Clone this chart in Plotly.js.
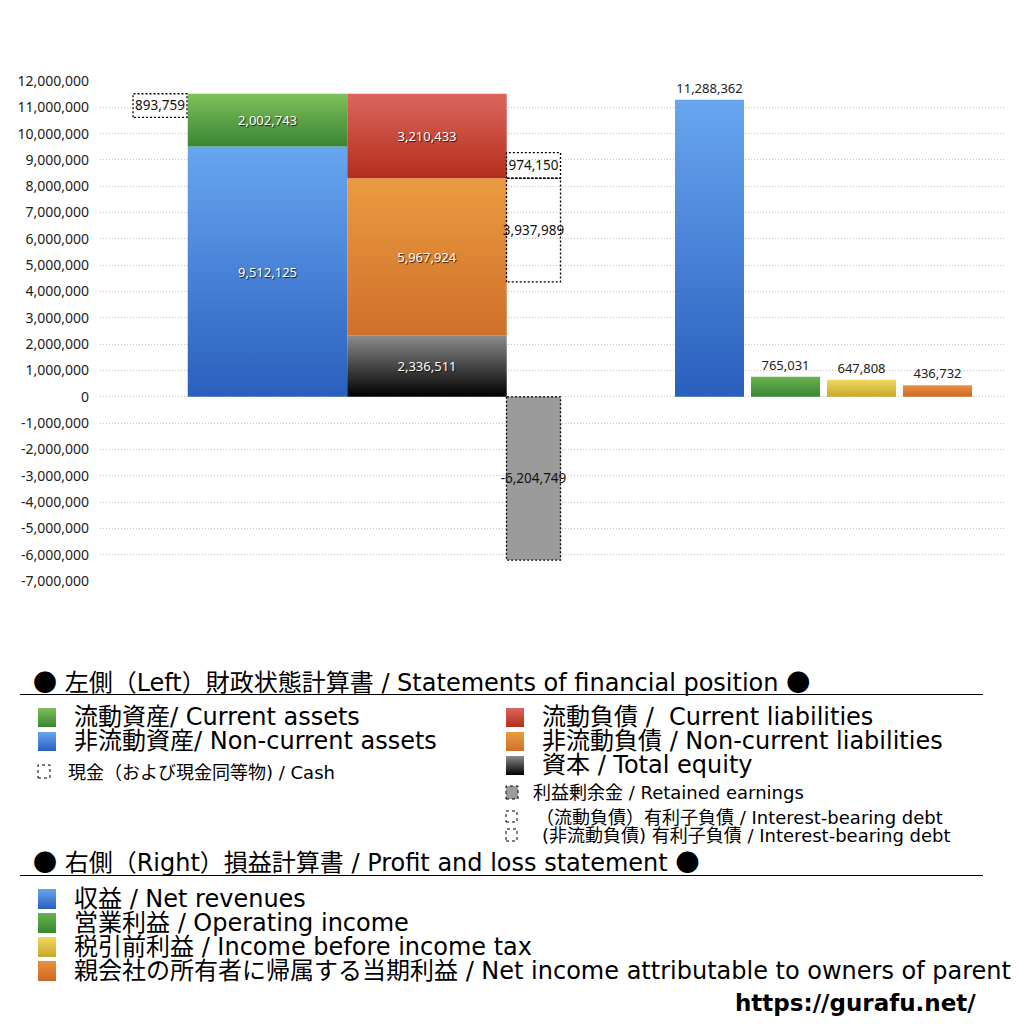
<!DOCTYPE html>
<html>
<head>
<meta charset="utf-8">
<script src="https://cdn.plot.ly/plotly-3.0.1.min.js"></script>
<style>
html,body{margin:0;padding:0;background:#fff;}
#chart{width:1024px;height:1024px;}
</style>
</head>
<body>
<div id="chart"></div>
<script>
// ---------- data ----------
const yTickLabels = ['12,000,000','11,000,000','10,000,000','9,000,000','8,000,000','7,000,000','6,000,000','5,000,000','4,000,000','3,000,000','2,000,000','1,000,000','0','-1,000,000','-2,000,000','-3,000,000','-4,000,000','-5,000,000','-6,000,000','-7,000,000'];
const nonCurrentAssets = 9512125;
const currentAssets = 2002743;
const cash = 893759;
const totalEquity = 2336511;
const nonCurrentLiabilities = 5967924;
const currentLiabilities = 3210433;
const ibdNonCurrent = 3937989;
const ibdCurrent = 974150;
const retainedEarnings = -6204749;
const plCategories = ['収益 / Net revenues','営業利益 / Operating income','税引前利益 / Income before income tax','親会社の所有者に帰属する当期利益 / Net income attributable to owners of parent'];
const plValues = [11288362, 765031, 647808, 436732];

// ---------- layout constants (pixel-based x axis) ----------
const L = 100, R = 1005, T = 81, B = 581;
const xCash = 160, wSmall = 54;
const xAssets = 267.5, wMain = 159.5;
const xLiab = 427, xDebt = 533.5;
const xPL = [709.5, 785.5, 861.5, 937.5], wPL = 69;

const fmt = v => v.toLocaleString('en-US');
const FONT = '"Noto Sans", "Noto Sans CJK JP", sans-serif';
const LFONT = '"DejaVu Sans", "Noto Sans CJK JP", sans-serif';
const DOT = '<span style="font-family:\'Noto Sans CJK JP\'">●</span>';
const tickVals = yTickLabels.map(s => Number(s.replace(/,/g, '')));

const gradDefs = {
  gBlue: ['#68a6f0', '#2a5fbe'],
  gGreen: ['#7fc159', '#398434'],
  gRed: ['#dc665d', '#b32e1b'],
  gOrange: ['#ea9b40', '#d0702b'],
  gBlack: ['#8c8c8c', '#000000'],
  gGreen2: ['#6cb34f', '#378733'],
  gYellow: ['#f0d95c', '#c8a62c'],
  gOrange2: ['#eb8f3d', '#cc6826']
};

const insideFont = {family: FONT, size: 13, color: '#ffffff', shadow: '1px 1px 1px rgba(0,0,0,0.75)'};
const boxFont = {family: FONT, size: 13.5, color: '#111111'};

function solidBar(x, w, y, base, grad, name) {
  return {type: 'bar', x: [x], y: [y], base: [base], width: [w], name: name,
    marker: {color: gradDefs[grad][1], line: {width: 0}},
    text: [fmt(y)], textposition: 'inside', insidetextanchor: 'middle', textangle: 0,
    textfont: insideFont, hoverinfo: 'skip', showlegend: false};
}
function boxBar(x, w, y, base, fill, name) {
  return {type: 'bar', x: [x], y: [y], base: [base], width: [w], name: name,
    marker: {color: fill, line: {color: '#000', width: 1.3}},
    text: [fmt(y)], textposition: 'inside', insidetextanchor: 'middle', textangle: 0,
    textfont: boxFont, hoverinfo: 'skip', showlegend: false};
}

const totalAssets = nonCurrentAssets + currentAssets;
const traces = [
  solidBar(xAssets, wMain, nonCurrentAssets, 0, 'gBlue', '非流動資産'),
  solidBar(xAssets, wMain, currentAssets, nonCurrentAssets, 'gGreen', '流動資産'),
  boxBar(xCash, wSmall, cash, totalAssets - cash, 'rgba(255,255,255,0)', '現金'),
  solidBar(xLiab, wMain, totalEquity, 0, 'gBlack', '資本'),
  solidBar(xLiab, wMain, nonCurrentLiabilities, totalEquity, 'gOrange', '非流動負債'),
  solidBar(xLiab, wMain, currentLiabilities, totalEquity + nonCurrentLiabilities, 'gRed', '流動負債'),
  boxBar(xDebt, wSmall, ibdNonCurrent, totalEquity + nonCurrentLiabilities - ibdNonCurrent, 'rgba(255,255,255,0)', '有利子負債(非流動)'),
  boxBar(xDebt, wSmall, ibdCurrent, totalEquity + nonCurrentLiabilities, 'rgba(255,255,255,0)', '有利子負債(流動)'),
  boxBar(xDebt, wSmall, retainedEarnings, 0, '#9b9b9b', '利益剰余金'),
  {type: 'bar', x: xPL, y: plValues, width: xPL.map(() => wPL), name: 'PL',
    marker: {color: ['#2a5fbe', '#378733', '#c8a62c', '#cc6826'], line: {width: 0}},
    text: plValues.map(fmt), textposition: 'outside', cliponaxis: false, textangle: 0,
    textfont: {family: FONT, size: 13, color: '#222'}, hoverinfo: 'skip', showlegend: false}
];
const traceGrad = [['gBlue'], ['gGreen'], null, ['gBlack'], ['gOrange'], ['gRed'], null, null, null,
  ['gBlue', 'gGreen2', 'gYellow', 'gOrange2']];
const dottedTraces = [2, 6, 7, 8];

// ---------- legend (pixel positions converted to paper) ----------
const px = x => (x - L) / (R - L);
const py = y => (B - y) / (B - T);
const shapes = [];
const shapeGrad = [];
const annotations = [];
function rect(x0, y0, x1, y1, grad, fill, dotted) {
  shapes.push({type: 'rect', xref: 'paper', yref: 'paper', x0: px(x0), x1: px(x1), y0: py(y1), y1: py(y0),
    fillcolor: grad ? gradDefs[grad][1] : fill,
    line: dotted ? {color: '#000', width: 1, dash: 'dot'} : {width: 0}, layer: 'above'});
  shapeGrad.push(grad || null);
}
function label(x, y, text, size, extra) {
  annotations.push(Object.assign({xref: 'paper', yref: 'paper', x: px(x), y: py(y), xanchor: 'left', yanchor: 'middle',
    text: text, showarrow: false, font: {family: LFONT, size: size, color: '#000'}, borderpad: 0}, extra || {}));
}
function hline(y) {
  shapes.push({type: 'line', xref: 'paper', yref: 'paper', x0: px(20), x1: px(983), y0: py(y), y1: py(y),
    line: {color: '#000', width: 1}});
  shapeGrad.push(null);
}

label(32, 680, DOT + ' 左側（Left）財政状態計算書 / Statements of financial position ' + DOT, 24);
hline(694.5);
rect(38, 708, 56, 727, 'gGreen'); label(73, 717, '流動資産/ Current assets', 24);
rect(38, 732, 56, 751, 'gBlue'); label(73, 741, '非流動資産/ Non-current assets', 24);
rect(38, 765, 50, 778, null, 'rgba(0,0,0,0)', true); label(67, 772, '現金（および現金同等物) / Cash', 18);
rect(506, 708, 524, 727, 'gRed'); label(541, 717, '流動負債 /  Current liabilities', 24);
rect(506, 732, 524, 751, 'gOrange'); label(541, 741, '非流動負債 / Non-current liabilities', 24);
rect(506, 756, 524, 775, 'gBlack'); label(541, 765, '資本 / Total equity', 24);
rect(506, 786, 518, 799, null, '#9b9b9b', true); label(532, 792, '利益剰余金 / Retained earnings', 18);
rect(506, 811, 517, 822, null, 'rgba(0,0,0,0)', true); label(535, 817, '（流動負債）有利子負債 / Interest-bearing debt', 18);
rect(506, 829, 517, 841, null, 'rgba(0,0,0,0)', true); label(541, 835, '(非流動負債) 有利子負債 / Interest-bearing debt', 18);

label(32, 860, DOT + ' 右側（Right）損益計算書 / Profit and loss statement ' + DOT, 24);
hline(875.5);
plCategories.forEach((c, i) => {
  const y0 = 889 + i * 24;
  rect(38, y0, 56, y0 + 20, traceGrad[9][i]);
  label(73, y0 + 10, c, 24);
});
label(734, 1003, '<b>https://gurafu.net/</b>', 23, {font: {family: '"DejaVu Sans", sans-serif', size: 23, color: '#000'}});

const layout = {
  width: 1024, height: 1024,
  margin: {l: L, r: 1024 - R, t: T, b: 1024 - B, pad: 0},
  paper_bgcolor: '#fff', plot_bgcolor: '#fff',
  barmode: 'overlay',
  showlegend: false,
  font: {family: FONT, color: '#222'},
  uniformtext: {mode: false},
  xaxis: {range: [L, R], visible: false, fixedrange: true},
  yaxis: {range: [-7000000, 12000000], tickvals: tickVals, ticktext: yTickLabels,
    showgrid: true, gridcolor: '#c4c4c4', griddash: '1px,2px', gridwidth: 1,
    zeroline: false, showline: false, ticks: '', ticklabelstandoff: 10,
    tickfont: {family: FONT, size: 14, color: '#222'}, fixedrange: true},
  shapes: shapes,
  annotations: annotations
};

const gd = document.getElementById('chart');
Plotly.newPlot(gd, traces, layout, {staticPlot: true, displayModeBar: false}).then(() => {
  const svgNS = 'http://www.w3.org/2000/svg';
  const svg = gd.querySelector('.main-svg');
  const defs = document.createElementNS(svgNS, 'defs');
  Object.keys(gradDefs).forEach(id => {
    const g = document.createElementNS(svgNS, 'linearGradient');
    g.setAttribute('id', id);
    g.setAttribute('x1', '0'); g.setAttribute('y1', '0');
    g.setAttribute('x2', '0'); g.setAttribute('y2', '1');
    gradDefs[id].forEach((c, k) => {
      const s = document.createElementNS(svgNS, 'stop');
      s.setAttribute('offset', k === 0 ? '0' : '1');
      s.setAttribute('stop-color', c);
      g.appendChild(s);
    });
    defs.appendChild(g);
  });
  svg.insertBefore(defs, svg.firstChild);

  const barTraces = gd.querySelectorAll('.barlayer .trace');
  barTraces.forEach((tr, i) => {
    const pts = tr.querySelectorAll('.point');
    pts.forEach((pt, j) => {
      const p = pt.querySelector('path');
      if (!p) return;
      if (traceGrad[i] && traceGrad[i][j]) p.style.fill = 'url(#' + traceGrad[i][j] + ')';
      if (dottedTraces.includes(i)) { p.style.strokeDasharray = '2,2'; }
      // keep box labels at full size (no shrink to fit)
      const t = pt.querySelector('text');
      if (t && dottedTraces.includes(i)) {
        const tf = t.getAttribute('transform');
        if (tf && tf.indexOf('scale') >= 0) {
          const bb = p.getBBox();
          t.removeAttribute('transform');
          t.setAttribute('x', bb.x + bb.width / 2);
          t.setAttribute('y', bb.y + bb.height / 2 + 4.5);
          t.setAttribute('text-anchor', 'middle');
          t.querySelectorAll('tspan').forEach(s => { s.setAttribute('x', bb.x + bb.width / 2); });
        }
      }
    });
  });
  gd.querySelectorAll('.shapelayer path').forEach(p => {
    const idx = Number(p.getAttribute('data-index'));
    if (shapeGrad[idx]) p.style.fill = 'url(#' + shapeGrad[idx] + ')';
  });
});
</script>
</body>
</html>
